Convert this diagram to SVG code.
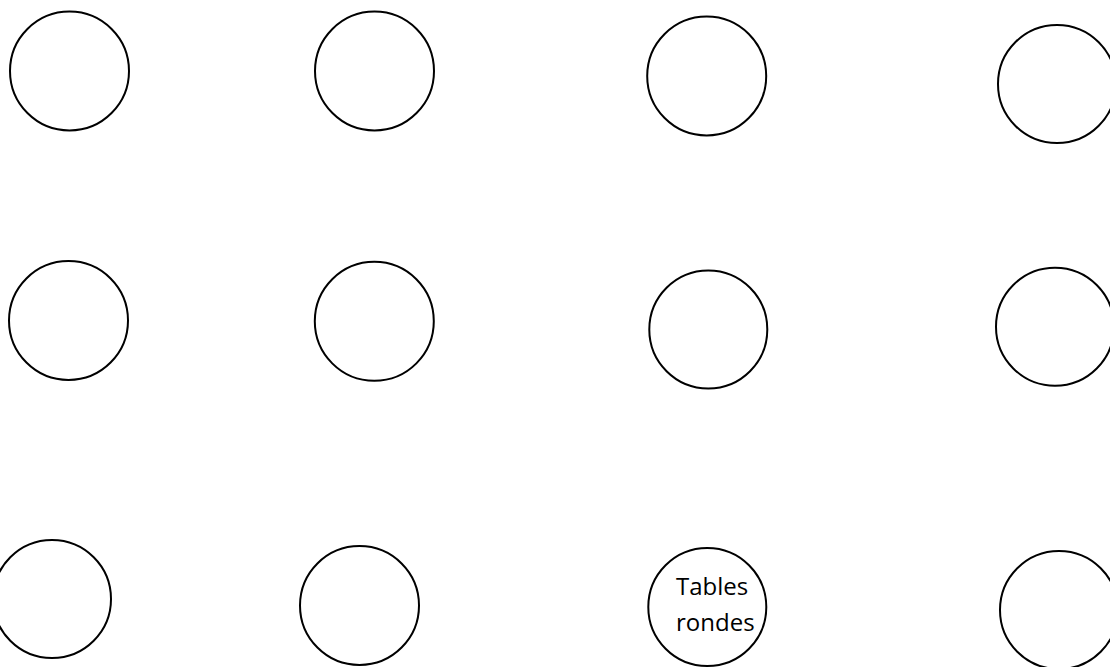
<svg xmlns="http://www.w3.org/2000/svg" width="1110" height="667" viewBox="0 0 1110 667">
<style>
.t{fill:#ffffff;stroke:#000000;stroke-width:2}
.lbl{font-family:"Open Sans","Liberation Sans",sans-serif;font-size:24px;fill:#000000}
</style>
<rect width="1110" height="667" fill="#ffffff"/>
<g id="table-r1c1"><circle class="t" cx="69.5" cy="71" r="59.5"/></g>
<g id="table-r1c2"><circle class="t" cx="374.5" cy="71" r="59.5"/></g>
<g id="table-r1c3"><circle class="t" cx="706.7" cy="76" r="59.5"/></g>
<g id="table-r1c4"><circle class="t" cx="1057" cy="84" r="59"/></g>
<g id="table-r2c1"><circle class="t" cx="68.5" cy="320.5" r="59.5"/></g>
<g id="table-r2c2"><circle class="t" cx="374.3" cy="321.3" r="59.5"/></g>
<g id="table-r2c3"><circle class="t" cx="708.3" cy="329.5" r="59"/></g>
<g id="table-r2c4"><circle class="t" cx="1055" cy="326.7" r="59"/></g>
<g id="table-r3c1"><circle class="t" cx="52" cy="599" r="59"/></g>
<g id="table-r3c2"><circle class="t" cx="359.5" cy="605.5" r="59.5"/></g>
<g id="table-r3c3"><circle class="t" cx="707.3" cy="607" r="59"/>
<text class="lbl" x="676" y="595">Tables</text>
<text class="lbl" x="676" y="631">rondes</text></g>
<g id="table-r3c4"><circle class="t" cx="1059" cy="610" r="59"/></g>
<g id="connectors"></g>
</svg>
